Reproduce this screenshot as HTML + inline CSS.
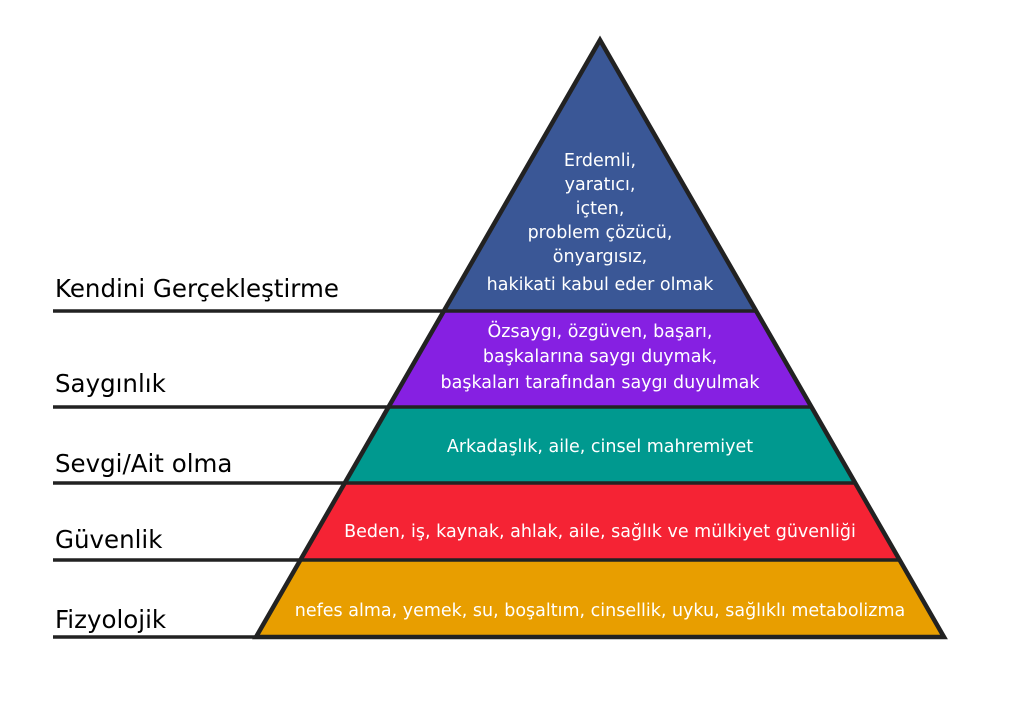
<!DOCTYPE html>
<html><head><meta charset="utf-8"><style>
html,body{margin:0;padding:0;background:#fff;}
svg{display:block;}
.w{fill:#fff;font-family:"DejaVu Sans","Liberation Sans",sans-serif;font-size:17.5px;text-anchor:middle;}
.l{fill:#000;font-family:"DejaVu Sans","Liberation Sans",sans-serif;font-size:24.5px;}
</style></head><body>
<svg width="1023" height="717" viewBox="0 0 1023 717" xmlns="http://www.w3.org/2000/svg">
<rect width="1023" height="717" fill="#fff"/>
<polygon points="600,40 756,311 444,311" fill="#3a5796"/>
<polygon points="444,311 756,311 811.5,407 388.5,407" fill="#8620e2"/>
<polygon points="388.5,407 811.5,407 855,483 345,483" fill="#00998f"/>
<polygon points="345,483 855,483 899.6,560 300.4,560" fill="#f52334"/>
<polygon points="300.4,560 899.6,560 944,637 256,637" fill="#e89e00"/>
<g stroke="#222" stroke-width="3.5" fill="none">
<line x1="53" y1="311" x2="756" y2="311"/>
<line x1="53" y1="407" x2="811.5" y2="407"/>
<line x1="53" y1="483" x2="855" y2="483"/>
<line x1="53" y1="560" x2="899.6" y2="560"/>
<line x1="53" y1="637" x2="944" y2="637"/>
<polygon points="600,40 944,637 256,637" stroke-width="4.5"/>
</g>
<text class="w" x="600" y="166">Erdemli,</text>
<text class="w" x="600" y="190">yaratıcı,</text>
<text class="w" x="600" y="214">içten,</text>
<text class="w" x="600" y="238">problem çözücü,</text>
<text class="w" x="600" y="262">önyargısız,</text>
<text class="w" x="600" y="290">hakikati kabul eder olmak</text>
<text class="w" x="600" y="337">Özsaygı, özgüven, başarı,</text>
<text class="w" x="600" y="362">başkalarına saygı duymak,</text>
<text class="w" x="600" y="388">başkaları tarafından saygı duyulmak</text>
<text class="w" x="600" y="452">Arkadaşlık, aile, cinsel mahremiyet</text>
<text class="w" x="600" y="537">Beden, iş, kaynak, ahlak, aile, sağlık ve mülkiyet güvenliği</text>
<text class="w" x="600" y="616">nefes alma, yemek, su, boşaltım, cinsellik, uyku, sağlıklı metabolizma</text>
<text class="l" x="55" y="297">Kendini Gerçekleştirme</text>
<text class="l" x="55" y="392">Saygınlık</text>
<text class="l" x="55" y="472">Sevgi/Ait olma</text>
<text class="l" x="55" y="548">Güvenlik</text>
<text class="l" x="55" y="628">Fizyolojik</text>
</svg>
</body></html>
